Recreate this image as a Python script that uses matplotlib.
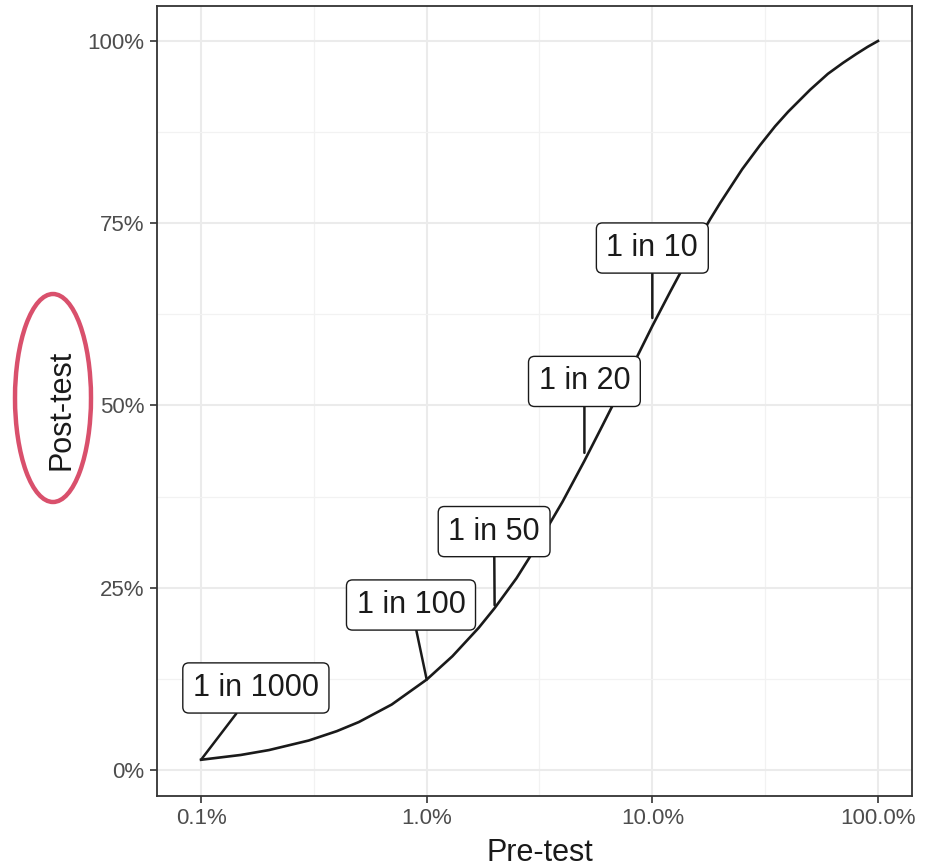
import matplotlib.pyplot as plt
from matplotlib.patches import Ellipse
from matplotlib.ticker import FixedLocator

plt.rcParams['font.family'] = ['Liberation Sans', 'DejaVu Sans']

# curve (pre-test vs post-test probability)
pre_test = [0.001, 0.0015, 0.002, 0.003, 0.004, 0.005, 0.007, 0.01, 0.013, 0.017,
            0.02, 0.025, 0.03, 0.04, 0.05, 0.06, 0.07, 0.085, 0.1, 0.12,
            0.15, 0.18, 0.2, 0.25, 0.3, 0.35, 0.4, 0.5, 0.6, 0.7,
            0.8, 0.9, 1.0]
post_test = [0.014, 0.0206, 0.0273, 0.0404, 0.0533, 0.0657, 0.0898, 0.124, 0.156, 0.195,
             0.222, 0.263, 0.302, 0.368, 0.424, 0.472, 0.513, 0.565, 0.609, 0.656,
             0.712, 0.755, 0.778, 0.824, 0.857, 0.883, 0.903, 0.933, 0.955, 0.970,
             0.982, 0.992, 1.0]

# labelled points and where their boxes sit
label_text = ["1 in 1000", "1 in 100", "1 in 50", "1 in 20", "1 in 10"]
label_x = [0.001, 0.01, 0.02, 0.05, 0.1]
label_y = [0.014, 0.124, 0.226, 0.435, 0.62]
box_x = [0.00175, 0.00852, 0.0199, 0.05, 0.1]
box_y = [0.1125, 0.2263, 0.327, 0.533, 0.716]

x_ticks = [0.001, 0.01, 0.1, 1.0]
x_ticklabels = ["0.1%", "1.0%", "10.0%", "100.0%"]
y_ticks = [0, 0.25, 0.5, 0.75, 1.0]
y_ticklabels = ["0%", "25%", "50%", "75%", "100%"]

fig = plt.figure(figsize=(9.34, 8.68), dpi=100)
ax = fig.add_axes([157/934, 1 - 796/868, (912 - 157)/934, (796 - 6)/868])

ax.set_xscale('log')
ax.set_xlim(0.000638, 1.415)
ax.set_ylim(-0.0357, 1.048)

ax.plot(pre_test, post_test, color='#1a1a1a', lw=1.9, zorder=3,
        solid_joinstyle='round')

for txt, px, py, bx, by in zip(label_text, label_x, label_y, box_x, box_y):
    ax.annotate(txt, xy=(px, py), xytext=(bx, by), ha='center', va='center',
                fontsize=22, color='#1a1a1a', zorder=5,
                bbox=dict(boxstyle='round,pad=0.33,rounding_size=0.2',
                          fc='white', ec='#1a1a1a', lw=1.0),
                arrowprops=dict(arrowstyle='-', color='#1a1a1a', lw=1.8,
                                shrinkA=0, shrinkB=0))

ax.set_xticks(x_ticks)
ax.set_xticklabels(x_ticklabels)
ax.xaxis.set_minor_locator(FixedLocator([0.000316, 0.00316, 0.0316, 0.316]))
ax.xaxis.set_minor_formatter(plt.NullFormatter())
ax.set_yticks(y_ticks)
ax.set_yticklabels(y_ticklabels)
ax.yaxis.set_minor_locator(FixedLocator([0.125, 0.375, 0.625, 0.875]))

ax.grid(True, which='major', color='#ebebeb', lw=1.5, zorder=0)
ax.grid(True, which='minor', color='#f2f2f2', lw=0.9, zorder=0)
ax.set_axisbelow(True)

ax.tick_params(which='major', length=5, width=1.2, color='#333333',
               labelsize=16, labelcolor='#4d4d4d', pad=4)
ax.tick_params(which='minor', length=0)
for s in ax.spines.values():
    s.set_color('#333333')
    s.set_linewidth(1.3)

fig.text(540/934, 1 - 853/868, "Pre-test", ha='center', va='center', fontsize=22,
         color='#1a1a1a')
fig.text(62/934, 1 - 410/868, "Post-test", ha='center', va='center', fontsize=22,
         color='#1a1a1a', rotation=90)

# red ellipse drawn round the y axis title
fig.patches.append(Ellipse((53/934, 1 - 398/868), 76/934, 208/868,
                           transform=fig.transFigure, fill=False,
                           ec='#d9506c', lw=3.2))

fig.savefig('out.png', dpi=100)
